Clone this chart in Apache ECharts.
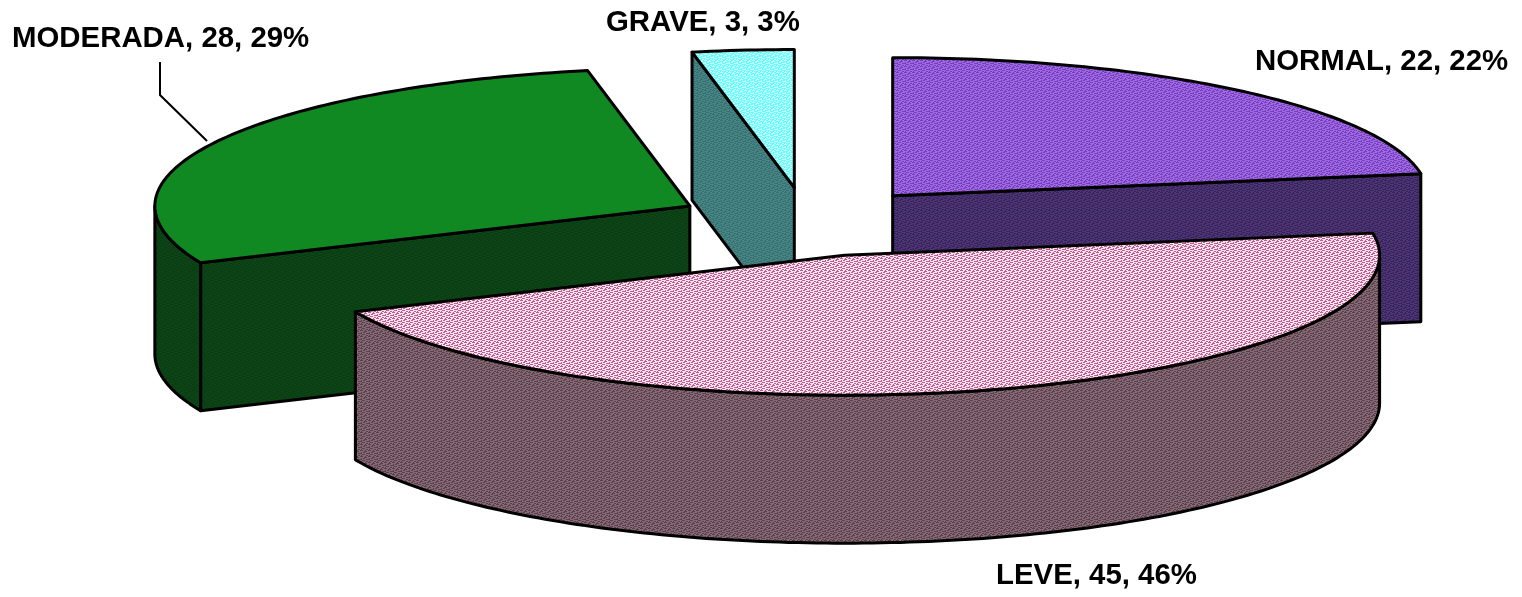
<!DOCTYPE html>
<html>
<head>
<meta charset="utf-8">
<style>
  html, body { margin: 0; padding: 0; background: #fff; }
  #chart { width: 1522px; height: 597px; }
</style>
<script src="https://cdn.jsdelivr.net/npm/echarts@6/dist/echarts.min.js"></script>
</head>
<body>
<div id="chart"></div>
<script>
const categories = ['NORMAL', 'LEVE', 'MODERADA', 'GRAVE'];
const counts     = [22, 45, 28, 3];
const percents   = [22, 46, 29, 3];

// top colours and side colours, each as a pair for the dither
const topColors  = [['#9c6ce8', '#7c3cb8'], ['#f8e4f0', '#c05c8c'], ['#0c8c1e', '#188428'], ['#66ffff', '#d0ffff']];
const sideColors = [['#4c3674', '#38205c'], ['#7c7078', '#683848'], ['#0a4616', '#0c3a12'], ['#468684', '#386e70']];

// the pie as a tilted disc, the far half a little flatter than the near one
const CX = 807, CY = 222, RX = 535, RY_FAR = 138, RY_NEAR = 140, DEPTH = 148, EXPLODE = 0.247;

// label left edge and baseline, by category
const labelAt = [[1255, 76], [996, 590], [12, 53], [606, 37]];
const paintOrder = [2, 3, 0, 1];

const dither = (pair) => {
  const c = document.createElement('canvas');
  c.width = 8; c.height = 6;
  const g = c.getContext('2d');
  g.fillStyle = pair[0];
  g.fillRect(0, 0, 8, 6);
  g.fillStyle = pair[1];
  [[0, 0, 3, 1], [5, 0, 1, 1], [4, 1, 3, 1], [1, 2, 1, 1], [3, 2, 2, 1], [0, 3, 2, 1], [6, 3, 2, 1], [2, 4, 3, 1], [6, 5, 2, 1], [1, 5, 1, 1]]
    .forEach(([x, y, w, h]) => g.fillRect(x, y, w, h));
  return { image: c, repeat: 'repeat' };
};

const total = counts.reduce((a, b) => a + b, 0);
let run = 0;
const slices = counts.map((v) => {
  const from = run / total * 360;
  run += v;
  return { from, to: run / total * 360 };
});

const rad = (d) => d * Math.PI / 180;
const onDisc = (o, deg) => {
  const c = Math.cos(rad(deg));
  return [o[0] + RX * Math.sin(rad(deg)), o[1] - (c > 0 ? RY_FAR : RY_NEAR) * c];
};
const down = (p) => [p[0], p[1] + DEPTH];
const arc = (o, a, b) => {
  const pts = [];
  for (let d = a; d < b; d += 1) pts.push(onDisc(o, d));
  pts.push(onDisc(o, b));
  return pts;
};

function renderSlice(params, api) {
  const i = api.value(0);
  const s = slices[i];
  const mid = rad((s.from + s.to) / 2);
  const o = [CX + EXPLODE * RX * Math.sin(mid), CY - EXPLODE * 140 * Math.cos(mid)];
  const line = { stroke: '#000', lineWidth: 3, lineJoin: 'round' };
  const side = Object.assign({ fill: dither(sideColors[i]) }, line);
  const kids = [];
  const poly = (points, style) => kids.push({ type: 'polygon', shape: { points }, style });

  // cut faces, only those turned towards the viewer
  [[s.from, s.from - 90], [s.to, s.to + 90]].forEach(([edge, normal]) => {
    if (Math.cos(rad(normal)) < 0) {
      const p = onDisc(o, edge);
      poly([o, p, down(p), down(o)], side);
    }
  });

  // rim, front half only
  const a = Math.max(s.from, 90), b = Math.min(s.to, 270);
  if (a < b) {
    const rim = arc(o, a, b);
    poly(rim.concat(rim.map(down).reverse()), side);
  }

  poly([o].concat(arc(o, s.from, s.to)), Object.assign({ fill: dither(topColors[i]) }, line));

  kids.push({
    type: 'text',
    x: labelAt[i][0],
    y: labelAt[i][1],
    style: {
      text: categories[i] + ', ' + counts[i] + ', ' + percents[i] + '%',
      fill: '#000',
      font: 'bold 29.4px "Liberation Sans", Arial, sans-serif',
      verticalAlign: 'bottom'
    }
  });
  return { type: 'group', children: kids };
}

const chart = echarts.init(document.getElementById('chart'), null, { renderer: 'canvas' });
chart.setOption({
  animation: false,
  backgroundColor: '#fff',
  series: [{
    type: 'custom',
    coordinateSystem: 'none',
    renderItem: renderSlice,
    encode: { value: 0 },
    data: paintOrder.map((i) => [i])
  }],
  graphic: [{
    type: 'polyline',
    z: 10,
    shape: { points: [[160, 62], [160, 95], [207, 141]] },
    style: { stroke: '#000', lineWidth: 2, fill: null }
  }]
});
</script>
</body>
</html>
